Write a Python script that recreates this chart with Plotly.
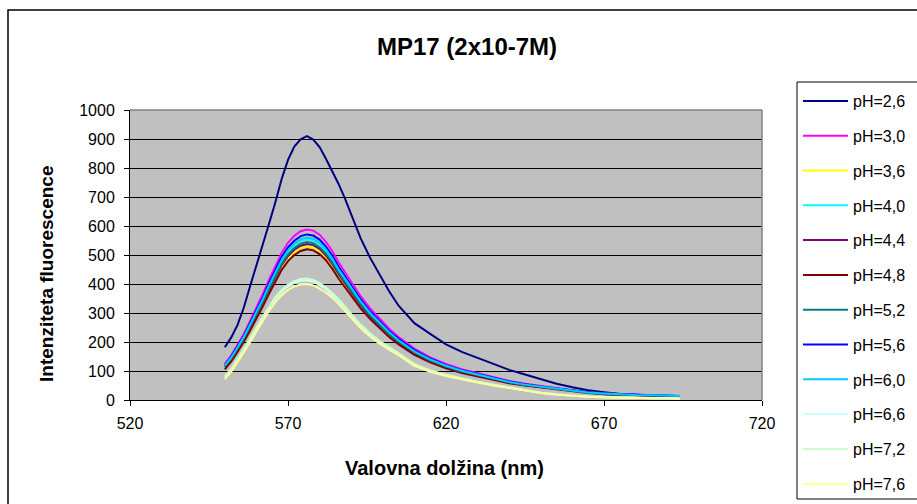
import plotly.graph_objects as go

# Emission wavelengths (nm)
wavelength = [550, 552, 554, 556, 558, 560, 562, 564, 566, 568, 570, 572, 574, 576, 578,
              580, 582, 584, 586, 588, 590, 593, 596, 599, 602, 605, 610, 615, 620, 625,
              630, 635, 640, 645, 650, 655, 660, 665, 670, 675, 680, 685, 690, 694]

# Fluorescence intensity per pH
ph_2_6 = [182, 215, 258, 318, 392, 462, 538, 608, 682, 762, 828, 874, 899, 910, 898,
          872, 832, 790, 745, 695, 642, 557, 490, 430, 375, 325, 265, 228, 192, 166,
          146, 124, 104, 88, 72, 56, 44, 34, 27, 21, 18, 16, 15, 13]
ph_3_0 = [125, 153, 190, 228, 273, 317, 365, 415, 463, 508, 542, 566, 582, 588, 584,
          570, 545, 514, 475, 440, 408, 358, 316, 281, 246, 217, 177, 147, 124, 106,
          92, 79, 66, 56, 48, 41, 34, 27, 23, 20, 18, 16, 15, 14]
ph_3_6 = [112, 138, 172, 205, 246, 286, 329, 374, 417, 457, 488, 510, 524, 530, 526,
          513, 491, 462, 427, 396, 367, 322, 284, 253, 221, 195, 159, 132, 112, 95,
          83, 71, 59, 51, 44, 37, 30, 25, 21, 18, 16, 15, 14, 13]
ph_4_0 = [117, 144, 179, 214, 257, 299, 344, 391, 437, 479, 511, 534, 549, 555, 551,
          537, 514, 484, 447, 414, 384, 337, 297, 264, 231, 204, 166, 138, 116, 99,
          86, 74, 61, 52, 45, 38, 31, 26, 22, 19, 17, 16, 15, 14]
ph_4_4 = [114, 140, 174, 208, 250, 290, 334, 379, 424, 465, 496, 518, 532, 538, 534,
          521, 498, 469, 434, 402, 373, 327, 288, 257, 225, 198, 162, 135, 113, 97,
          84, 73, 60, 51, 45, 38, 31, 25, 21, 18, 16, 15, 14, 13]
ph_4_8 = [106, 132, 166, 200, 240, 280, 322, 366, 409, 449, 479, 500, 514, 520, 516,
          503, 482, 453, 419, 388, 360, 316, 279, 248, 217, 192, 156, 130, 109, 93,
          81, 70, 58, 50, 43, 36, 30, 24, 20, 18, 16, 15, 14, 13]
ph_5_2 = [116, 142, 176, 211, 253, 294, 338, 384, 429, 470, 502, 524, 539, 545, 541,
          527, 505, 475, 439, 407, 377, 331, 292, 260, 227, 201, 164, 136, 115, 98,
          85, 74, 61, 52, 45, 38, 31, 25, 21, 19, 17, 16, 15, 14]
ph_5_6 = [121, 149, 185, 221, 265, 308, 354, 403, 450, 493, 526, 549, 565, 571, 567,
          553, 529, 498, 460, 426, 395, 347, 306, 272, 238, 211, 172, 143, 120, 103,
          89, 77, 64, 54, 47, 40, 33, 27, 23, 20, 17, 16, 15, 14]
ph_6_0 = [119, 146, 181, 217, 260, 302, 348, 395, 441, 483, 516, 539, 554, 560, 556,
          542, 519, 488, 451, 418, 388, 340, 300, 267, 234, 206, 168, 140, 118, 101,
          88, 76, 62, 53, 46, 39, 32, 26, 22, 19, 17, 16, 15, 14]
ph_6_6 = [80, 105, 138, 172, 208, 245, 283, 318, 350, 373, 392, 404, 411, 413, 408,
          397, 382, 364, 343, 318, 292, 256, 226, 200, 180, 158, 122, 100, 86, 73,
          62, 52, 42, 34, 25, 19, 15, 12, 10, 8, 7, 6, 6, 5]
ph_7_2 = [81, 107, 140, 175, 211, 249, 287, 323, 355, 379, 398, 410, 417, 419, 414,
          403, 388, 369, 348, 323, 296, 260, 229, 203, 183, 162, 124, 102, 87, 74,
          63, 53, 43, 35, 25, 19, 15, 12, 10, 8, 7, 6, 6, 5]
ph_7_6 = [72, 97, 130, 163, 199, 236, 273, 307, 338, 361, 380, 392, 398, 400, 395,
          384, 370, 353, 332, 308, 283, 248, 219, 194, 174, 155, 118, 97, 83, 71,
          60, 50, 41, 33, 24, 18, 14, 11, 9, 8, 7, 6, 5, 5]

series_names = ["pH=2,6", "pH=3,0", "pH=3,6", "pH=4,0", "pH=4,4", "pH=4,8",
                "pH=5,2", "pH=5,6", "pH=6,0", "pH=6,6", "pH=7,2", "pH=7,6"]
series_values = [ph_2_6, ph_3_0, ph_3_6, ph_4_0, ph_4_4, ph_4_8,
                 ph_5_2, ph_5_6, ph_6_0, ph_6_6, ph_7_2, ph_7_6]
series_colors = ["#000080", "#FF00FF", "#FFFF00", "#00FFFF", "#800080", "#800000",
                 "#008080", "#0000FF", "#00CCFF", "#CCFFFF", "#CCFFCC", "#FFFF99"]

x_ticks = [520, 570, 620, 670, 720]

FONT = "Liberation Sans, Arial, sans-serif"

# plot area in pixels
W, H = 917, 504
L, R, T, B = 130, 762, 110, 400


def px_x(p):
    return (p - L) / (R - L)


def px_y(p):
    return (B - p) / (B - T)


fig = go.Figure()
for i, (name, vals, col) in enumerate(zip(series_names, series_values, series_colors)):
    fig.add_trace(go.Scatter(
        x=wavelength, y=vals, mode="lines", name=name,
        legendgroup=f"g{i}",
        line=dict(color=col, width=2),
    ))

axis_common = dict(
    showline=True, linecolor="black", linewidth=1,
    ticks="outside", ticklen=5, tickcolor="black", tickwidth=1,
    tickfont=dict(family=FONT, size=16, color="black"),
    zeroline=False,
)

fig.update_xaxes(range=[520, 720], tickvals=x_ticks, showgrid=False,
                 ticklabelstandoff=4, **axis_common)
fig.update_yaxes(range=[0, 1000], dtick=100, showgrid=True, gridcolor="black",
                 gridwidth=1, ticklabelstandoff=6, **axis_common)

shapes = [
    # outer chart frame
    dict(type="rect", xref="paper", yref="paper",
         x0=px_x(8), x1=px_x(925), y0=px_y(512), y1=px_y(10),
         line=dict(color="black", width=1.5), layer="above"),
    # top and right edges of the plot area
    dict(type="line", xref="paper", yref="paper", x0=0, x1=1, y0=1, y1=1,
         line=dict(color="#808080", width=1.5), layer="above"),
    dict(type="line", xref="paper", yref="paper", x0=1, x1=1, y0=0, y1=1,
         line=dict(color="#808080", width=1.5), layer="above"),
    # legend frame
    dict(type="rect", xref="paper", yref="paper",
         x0=px_x(797), x1=px_x(930), y0=px_y(499), y1=px_y(82),
         line=dict(color="black", width=1), layer="above"),
]

center = dict(xanchor="center", yanchor="middle", showarrow=False,
              xref="paper", yref="paper")
annotations = [
    dict(text="<b>MP17 (2x10-7M)</b>", x=px_x(467), y=px_y(47),
         font=dict(family=FONT, size=24, color="black"), **center),
    dict(text="<b>Valovna dolžina (nm)</b>", x=px_x(444), y=px_y(468),
         font=dict(family=FONT, size=20, color="black"), **center),
    dict(text="<b>Intenziteta fluorescence</b>", x=px_x(46), y=px_y(274),
         textangle=-90, font=dict(family=FONT, size=19, color="black"), **center),
]

fig.update_layout(
    width=W, height=H,
    margin=dict(l=L, r=W - R, t=T, b=H - B, pad=0, autoexpand=False),
    paper_bgcolor="white",
    plot_bgcolor="#C0C0C0",
    showlegend=True,
    legend=dict(
        x=px_x(798), y=px_y(84), xanchor="left", yanchor="top",
        font=dict(family=FONT, size=16, color="black"),
        bgcolor="rgba(0,0,0,0)", borderwidth=0,
        tracegroupgap=11, traceorder="grouped",
        itemwidth=45, maxheight=800,
    ),
    shapes=shapes,
    annotations=annotations,
)

fig.write_html("out.html")
